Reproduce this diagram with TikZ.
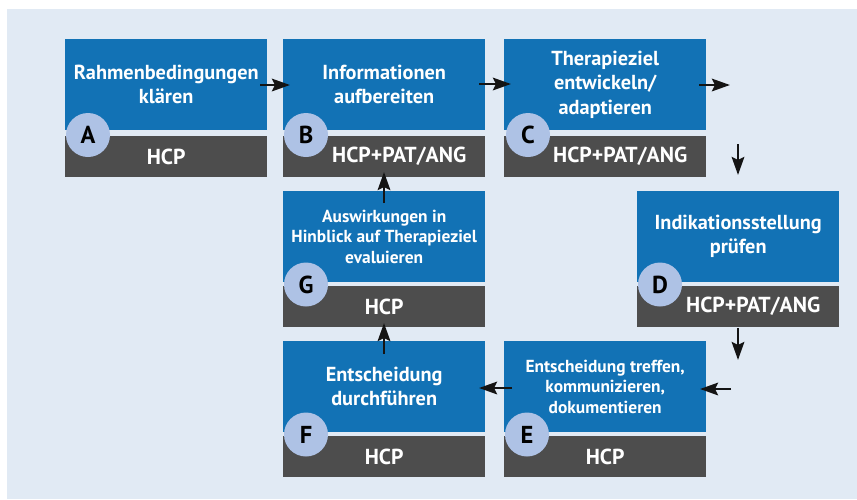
\documentclass[tikz,border=0pt]{standalone}
\usepackage{fontspec}
\setmainfont{PT Sans}
\usetikzlibrary{arrows.meta,calc}
\definecolor{bgc}{HTML}{E1EAF4}
\definecolor{bluec}{HTML}{1272B5}
\definecolor{grayc}{HTML}{4D4D4D}
\definecolor{circc}{HTML}{AEC2E5}
\definecolor{arrc}{HTML}{141414}
\begin{document}
\begin{tikzpicture}[x=1pt,y=-1pt,
 bluebox/.style={fill=bluec, text=white, minimum width=202pt, minimum height=91pt, anchor=north west, inner sep=0pt, align=center, font=\bfseries\fontsize{20.3}{24.2}\selectfont},
 smalltext/.style={font=\bfseries\fontsize{17.4}{20.6}\selectfont},
 graybox/.style={fill=grayc, minimum width=202pt, minimum height=41pt, anchor=north west, inner sep=0pt},
 graytext/.style={text=white, inner sep=0pt, font=\bfseries\fontsize{21.7}{24}\selectfont},
 badge/.style={circle, fill=circc, minimum size=44pt, inner sep=0pt, font=\bfseries\fontsize{24.5}{24}\selectfont, text=black},
 flow/.style={draw=arrc, line width=2.8pt, -{Stealth[length=18pt,width=12.5pt,inset=3pt]}}
]
\useasboundingbox (0,0) rectangle (857,499);
\fill[bgc] (7,9) rectangle (857,499);

% blue boxes
\node[bluebox] (A) at (65,39) {Rahmenbedingungen\\klären};
\node[bluebox] (B) at (283,39) {Informationen\\aufbereiten};
\node[bluebox] (C) at (504,39) {Therapieziel\\entwickeln/\\adaptieren};
\node[bluebox] (D) at (637,191) {Indikationsstellung\\prüfen};
\node[bluebox,smalltext] (G) at (283,191) {Auswirkungen in\\Hinblick auf Therapieziel\\evaluieren};
\node[bluebox] (F) at (283,341) {Entscheidung\\durchführen};
\node[bluebox,smalltext] (E) at (504,341) {Entscheidung treffen,\\kommunizieren,\\dokumentieren};

% gray boxes
\node[graybox] (A2) at (65,136) {};
\node[graybox] (B2) at (283,136) {};
\node[graybox] (C2) at (504,136) {};
\node[graybox] (D2) at (637,286) {};
\node[graybox] (G2) at (283,286) {};
\node[graybox] (F2) at (283,436) {};
\node[graybox] (E2) at (504,436) {};

\node[graytext] (A3) at (A2.center) {HCP};
\node[graytext] (B3) at ($(B2.center)+(15,0)$) {HCP+PAT/ANG};
\node[graytext] (C3) at ($(C2.center)+(15,0)$) {HCP+PAT/ANG};
\node[graytext] (D3) at ($(D2.center)+(15,0)$) {HCP+PAT/ANG};
\node[graytext] (G3) at (G2.center) {HCP};
\node[graytext] (F3) at (F2.center) {HCP};
\node[graytext] (E3) at (E2.center) {HCP};

% badges
\node[badge] (cA) at (88,135) {A};
\node[badge] (cB) at (306,135) {B};
\node[badge] (cC) at (528,135) {C};
\node[badge] (cD) at (660,284.5) {D};
\node[badge] (cG) at (306,284.5) {G};
\node[badge] (cF) at (306,434.5) {F};
\node[badge] (cE) at (527,434.5) {E};

% arrow end points
\coordinate (ab1) at (260,85);  \coordinate (ab2) at (290,85);
\coordinate (bc1) at (479,84);  \coordinate (bc2) at (511,84);
\coordinate (cr1) at (699,85);  \coordinate (cr2) at (730,85);
\coordinate (cd1) at (738,144); \coordinate (cd2) at (738,175);
\coordinate (dd1) at (738,328); \coordinate (dd2) at (738,360);
\coordinate (de1) at (731,389); \coordinate (de2) at (700,389);
\coordinate (ef1) at (512,388); \coordinate (ef2) at (479,388);
\coordinate (fg1) at (384,354); \coordinate (fg2) at (384,323);
\coordinate (gb1) at (384,203); \coordinate (gb2) at (384,172);

\draw[flow] (ab1) -- (ab2);
\draw[flow] (bc1) -- (bc2);
\draw[flow] (cr1) -- (cr2);
\draw[flow] (cd1) -- (cd2);
\draw[flow] (dd1) -- (dd2);
\draw[flow] (de1) -- (de2);
\draw[flow] (ef1) -- (ef2);
\draw[flow] (fg1) -- (fg2);
\draw[flow] (gb1) -- (gb2);
\end{tikzpicture}
\end{document}
